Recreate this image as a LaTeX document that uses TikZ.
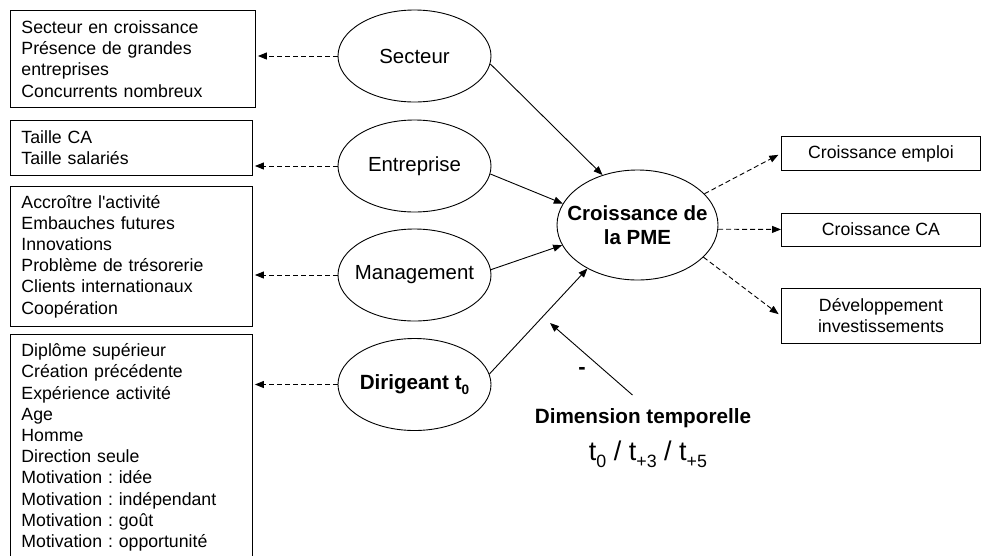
\documentclass[tikz,border=0pt]{standalone}
\usepackage{fontspec}
\setmainfont{Liberation Sans}
\usetikzlibrary{shapes.geometric, arrows.meta}
\newcommand{\indice}[1]{\raisebox{-0.28em}{\scalebox{0.66}{#1}}}
\tikzset{
  item box/.style={
    draw,
    rectangle,
    anchor=north west,
    inner xsep=11pt,
    align=left,
    font=\fontsize{17.7}{21.2}\selectfont,
  },
  result box/.style={
    draw,
    rectangle,
    anchor=north west,
    minimum width=199pt,
    align=center,
    font=\fontsize{17.7}{21.2}\selectfont,
  },
  factor node/.style={
    ellipse,
    draw,
    align=center,
    minimum width=153pt,
    minimum height=92pt,
    inner xsep=-14pt,
    inner ysep=0pt,
    font=\fontsize{20.4}{24}\selectfont,
  },
  effect/.style={-{Triangle[length=9pt,width=7pt]}},
  indicator/.style={effect, dash pattern=on 5pt off 3pt},
}

\begin{document}
\frenchspacing
\begin{tikzpicture}[x=1pt, y=-1pt, line width=0.9pt]
  \clip (0,0) rectangle (982,555);

  % lists of variables
  \node[item box, text width=223pt, minimum height=97pt] (sectlist) at (10,10)
    {Secteur en croissance\\Présence de grandes\\entreprises\\Concurrents nombreux};
  \node[item box, text width=220pt, minimum height=55pt] (entrlist) at (10,120)
    {Taille CA\\Taille salariés};
  \node[item box, text width=220pt, minimum height=140pt] (mgmtlist) at (10,186)
    {Accroître l\textquotesingle activité\\Embauches futures\\Innovations\\Problème de trésorerie\\Clients internationaux\\Coopération};
  \node[item box, text width=220pt, minimum height=226pt] (dirlist) at (10,334)
    {Diplôme supérieur\\Création précédente\\Expérience activité\\Age\\Homme\\Direction seule\\Motivation : idée\\Motivation : indépendant\\Motivation : goût\\Motivation : opportunité};

  % factors
  \node[factor node] (secteur) at (414.5,56) {Secteur};
  \node[factor node] (entreprise) at (414.5,166) {Entreprise};
  \node[factor node] (management) at (414.5,275) {Management};
  \node[factor node, font=\bfseries\fontsize{20.6}{24.5}\selectfont] (dirigeant) at (414.5,384.5) {Dirigeant t\indice{0}};
  \node[factor node, minimum width=161pt, minimum height=110pt, font=\bfseries\fontsize{20.5}{24.5}\selectfont] (pme) at (637.5,225) {Croissance de\\la PME};

  % results
  \node[result box, minimum height=34pt] (emploi) at (781,136) {Croissance emploi};
  \node[result box, minimum height=33pt] (ca) at (781,212.5) {Croissance CA};
  \node[result box, minimum height=55pt] (invest) at (781,288) {Développement\\investissements};

  % time
  \node[font=\bfseries\fontsize{20.7}{24}\selectfont, anchor=base] (dimension) at (643,423) {Dimension temporelle};
  \node[font=\fontsize{27}{32}\selectfont, anchor=base] (periodes) at (648,460) {t\indice{0} / t\indice{+3} / t\indice{+5}};
  \node[font=\bfseries\fontsize{22}{24}\selectfont] (signe) at (582,371) {-};
  \coordinate (moderation) at (550,323);

  \draw[indicator, shorten >=2pt] (secteur.west) -- (sectlist.east |- secteur.west);
  \draw[indicator, shorten >=2pt] (entreprise.west) -- (entrlist.east |- entreprise.west);
  \draw[indicator, shorten >=2pt] (management.west) -- (mgmtlist.east |- management.west);
  \draw[indicator, shorten >=2pt] (dirigeant.west) -- (dirlist.east |- dirigeant.west);

  \draw[effect] (secteur.-6) -- (pme.125);
  \draw[effect] (entreprise.-6) -- (pme.164);
  \draw[effect] (management.4) -- (pme.195);
  \draw[effect] (dirigeant.8) -- (pme.221);
  \draw[effect, shorten <=14pt] (dimension.north) -- (moderation);

  \draw[indicator, shorten >=3pt] (pme.25) -- (emploi.west);
  \draw[indicator] (pme.-3) -- (ca.west);
  \draw[indicator, shorten >=3pt] (pme.-26) -- (invest.west);
\end{tikzpicture}
\end{document}
